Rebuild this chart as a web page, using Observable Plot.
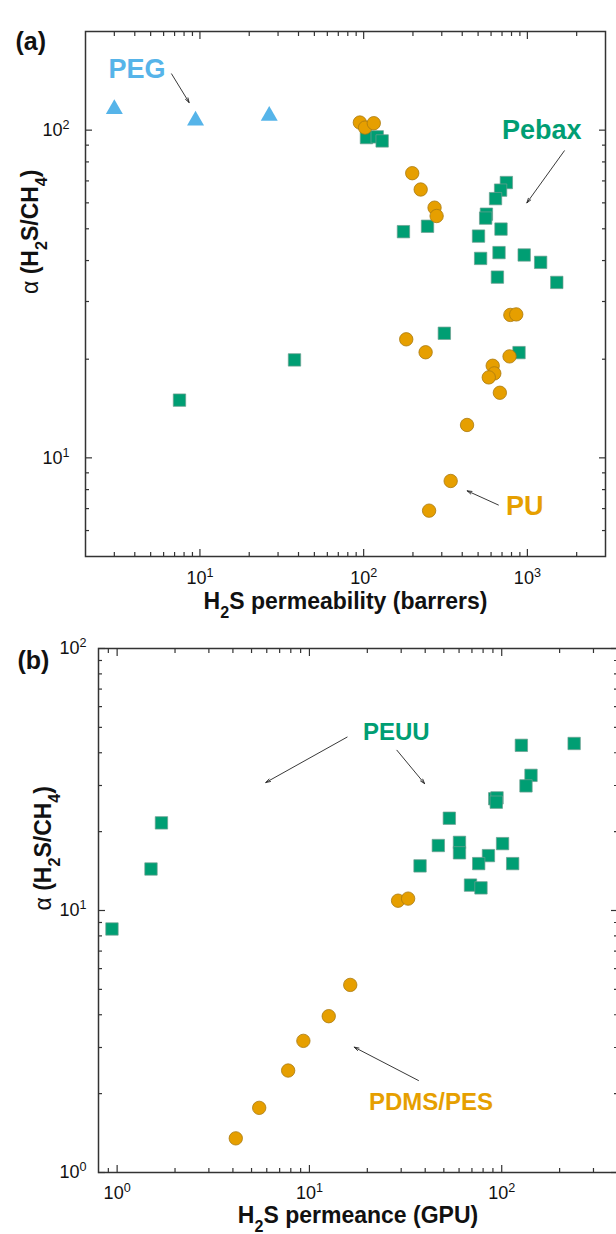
<!DOCTYPE html>
<html><head><meta charset="utf-8">
<script src="https://cdn.jsdelivr.net/npm/d3@7"></script>
<script src="https://cdn.jsdelivr.net/npm/@observablehq/plot@0.6"></script>
<style>
body{margin:0;background:#fff;}
#wrap{position:relative;width:616px;height:1234px;overflow:hidden;background:#fff;}
#wrap svg{position:absolute;left:0;}
</style>
</head><body><div id="wrap"></div>
<script>
// ---------- Panel (a): H2S permeability vs selectivity ----------
const pegPermeability = [3.0, 9.4, 26.5];
const pegSelectivity  = [116, 107, 110.6];

const puPermeability = [94.8, 102, 115.3, 198, 223, 271, 279, 787, 855, 182, 239, 614, 628, 581, 778, 679, 428, 340, 251];
const puSelectivity  = [105.5, 101.8, 105, 73.9, 65.9, 58, 54.7, 27.3, 27.4, 23.0, 21.0, 19.1, 18.1, 17.6, 20.4, 15.8, 12.6, 8.5, 6.9];

const pebaxPermeability = [104, 121, 129.7, 744, 686, 639, 562, 556, 690, 245.5, 175, 503, 518, 671, 956, 1205, 656, 1512, 311, 889, 37.8, 7.5];
const pebaxSelectivity  = [94.9, 95.4, 92.7, 69.2, 65.6, 61.8, 55.4, 53.9, 49.9, 50.9, 49.0, 47.5, 40.6, 42.3, 41.6, 39.5, 35.6, 34.3, 24.0, 20.95, 19.9, 15.0];

// ---------- Panel (b): H2S permeance vs selectivity ----------
const peuuPermeance   = [238, 126.5, 142, 133.7, 92, 94.5, 93.7, 53.4, 46.8, 60.3, 60.3, 101, 85.3, 75.9, 114, 37.6, 68.8, 78, 1.70, 1.50, 0.94];
const peuuSelectivity = [43.4, 42.7, 32.8, 29.9, 26.7, 26.9, 25.9, 22.5, 17.7, 18.2, 16.6, 18.0, 16.2, 15.1, 15.1, 14.8, 12.5, 12.2, 21.6, 14.4, 8.5];

const pdmsPermeance   = [28.9, 32.6, 16.3, 12.6, 9.3, 7.75, 5.48, 4.14];
const pdmsSelectivity = [10.9, 11.1, 5.2, 3.95, 3.18, 2.45, 1.765, 1.35];

// ---------- Axis ticks ----------
const aXMajor = [10, 100, 1000];
const aXMinor = [3,4,5,6,7,8,9,20,30,40,50,60,70,80,90,200,300,400,500,600,700,800,900,2000];
const aYMajor = [10, 100];
const aYMinor = [6,7,8,9,20,30,40,50,60,70,80,90];
const bXMajor = [1, 10, 100];
const bXMinor = [0.9,2,3,4,5,6,7,8,9,20,30,40,50,60,70,80,90,200,300];
const bYMajor = [1, 10, 100];
const bYMinor = [2,3,4,5,6,7,8,9,20,30,40,50,60,70,80,90];

// ---------- Annotations ----------
const aLabels = [
  {x: 4.13, y: 153.8, text: "PEG", color: "#56B4E9"},
  {x: 1226, y: 100.2, text: "Pebax", color: "#009E73"},
  {x: 965, y: 7.1, text: "PU", color: "#E69F00"}
];
const aArrows = [
  {x1: 6.71, y1: 148.5, x2: 8.59, y2: 121.4},
  {x1: 1682, y1: 86.5, x2: 993, y2: 60.0},
  {x1: 665, y1: 7.18, x2: 429, y2: 7.93}
];
const bLabels = [
  {x: 28.3, y: 48.0, text: "PEUU", color: "#009E73"},
  {x: 42.9, y: 1.854, text: "PDMS/PES", color: "#E69F00"}
];
const bArrows = [
  {x1: 15.7, y1: 45.9, x2: 5.93, y2: 30.8},
  {x1: 28.5, y1: 40.9, x2: 39.7, y2: 30.5},
  {x1: 36.9, y1: 2.244, x2: 17.1, y2: 3.008}
];

const zipXY = (xs, ys) => xs.map((x, i) => ({x, y: ys[i]}));
const AX = "#333";
const blank = () => "";
const pow10 = d => "10^" + Math.round(Math.log10(d));

function frameAxes(xMajor, xMinor, yMajor, yMinor, xPad, yPad) {
  const st = {stroke: AX, strokeWidth: 1.2, label: null, tickFormat: blank};
  return [
    ...["bottom", "top"].flatMap(anchor => [
      Plot.axisX({...st, anchor, ticks: xMajor, tickSize: -7}),
      Plot.axisX({...st, anchor, ticks: xMinor, tickSize: -4})
    ]),
    ...["left", "right"].flatMap(anchor => [
      Plot.axisY({...st, anchor, ticks: yMajor, tickSize: -7}),
      Plot.axisY({...st, anchor, ticks: yMinor, tickSize: -4})
    ]),
    Plot.axisX({anchor: "bottom", ticks: xMajor, tickSize: 0, tickPadding: xPad, tickFormat: pow10, label: null, fontSize: 18, fill: "#111"}),
    Plot.axisY({anchor: "left", ticks: yMajor, tickSize: 0, tickPadding: yPad, tickFormat: pow10, label: null, fontSize: 18, fill: "#111"})
  ];
}

function richify(svg) {
  svg.querySelectorAll("text").forEach(t => {
    const s = t.textContent;
    if (!/[_^α]/.test(s)) return;
    while (t.firstChild) t.removeChild(t.firstChild);
    const parts = s.match(/[_^]\{[^}]*\}|[_^].|α|[^_^α]+/g) || [];
    for (const p of parts) {
      const ts = document.createElementNS("http://www.w3.org/2000/svg", "tspan");
      if (p[0] === "_" || p[0] === "^") {
        ts.textContent = p[1] === "{" ? p.slice(2, -1) : p.slice(1);
        ts.setAttribute("baseline-shift", p[0] === "_" ? "sub" : "super");
        ts.setAttribute("font-size", "70%");
      } else if (p === "α") {
        ts.textContent = p;
        ts.setAttribute("font-weight", "normal");
      } else ts.textContent = p;
      t.appendChild(ts);
    }
  });
}

const style = {fontFamily: "'Liberation Sans', Arial, sans-serif", fontSize: "16px", overflow: "visible", background: "transparent"};

const plotA = Plot.plot({
  width: 616, height: 620,
  marginTop: 31, marginBottom: 64, marginLeft: 85, marginRight: 11,
  style,
  x: {type: "log", domain: [2, 3000], axis: null},
  y: {type: "log", domain: [5, 200], axis: null},
  marks: [
    Plot.frame({stroke: AX, strokeWidth: 1.5}),
    ...frameAxes(aXMajor, aXMinor, aYMajor, aYMinor, 15, 16),
    Plot.dot(zipXY(pebaxPermeability, pebaxSelectivity), {x: "x", y: "y", symbol: "square", r: 7, fill: "#009E73", stroke: "#6f9f90", strokeWidth: 0.7}),
    Plot.dot(zipXY(puPermeability, puSelectivity), {x: "x", y: "y", symbol: "circle", r: 6.7, fill: "#E69F00", stroke: "#a97a10", strokeWidth: 0.8}),
    Plot.dot(zipXY(pegPermeability, pegSelectivity), {x: "x", y: "y", symbol: "triangle", r: 6.3, fill: "#56B4E9"}),
    Plot.arrow(aArrows, {x1: "x1", y1: "y1", x2: "x2", y2: "y2", stroke: "#222", strokeWidth: 0.9, headLength: 8, headAngle: 35}),
    Plot.text(aLabels, {x: "x", y: "y", text: "text", fill: "color", fontWeight: "bold", fontSize: 27}),
    Plot.text(["(a)"], {frameAnchor: "top-left", text: d => d, textAnchor: "start", dx: -70, dy: 1, fontWeight: "bold", fontSize: 25, fill: "#111"}),
    Plot.text(["H_2S permeability (barrers)"], {frameAnchor: "bottom", text: d => d, dy: 52, fontWeight: "bold", fontSize: 23, fill: "#111"}),
    Plot.text(["α (H_2S/CH_4)"], {frameAnchor: "left", text: d => d, rotate: -90, dx: -55, fontWeight: "bold", fontSize: 23, fill: "#111"})
  ]
});

const plotB = Plot.plot({
  width: 616, height: 614,
  marginTop: 28, marginBottom: 62, marginLeft: 98, marginRight: -1,
  style,
  x: {type: "log", domain: [0.8, 400], axis: null},
  y: {type: "log", domain: [1, 100], axis: null},
  marks: [
    Plot.frame({stroke: AX, strokeWidth: 1.5}),
    ...frameAxes(bXMajor, bXMinor, bYMajor, bYMinor, 14, 12),
    Plot.dot(zipXY(peuuPermeance, peuuSelectivity), {x: "x", y: "y", symbol: "square", r: 7, fill: "#009E73", stroke: "#6f9f90", strokeWidth: 0.7}),
    Plot.dot(zipXY(pdmsPermeance, pdmsSelectivity), {x: "x", y: "y", symbol: "circle", r: 6.7, fill: "#E69F00", stroke: "#a97a10", strokeWidth: 0.8}),
    Plot.arrow(bArrows, {x1: "x1", y1: "y1", x2: "x2", y2: "y2", stroke: "#222", strokeWidth: 0.9, headLength: 8, headAngle: 35}),
    Plot.text(bLabels, {x: "x", y: "y", text: "text", fill: "color", fontWeight: "bold", fontSize: 24}),
    Plot.text(["(b)"], {frameAnchor: "top-left", text: d => d, textAnchor: "start", dx: -81, dy: 3, fontWeight: "bold", fontSize: 25, fill: "#111"}),
    Plot.text(["H_2S permeance (GPU)"], {frameAnchor: "bottom", text: d => d, dy: 50, fontWeight: "bold", fontSize: 23, fill: "#111"}),
    Plot.text(["α (H_2S/CH_4)"], {frameAnchor: "left", text: d => d, rotate: -90, dx: -55, fontWeight: "bold", fontSize: 23, fill: "#111"})
  ]
});

richify(plotA); richify(plotB);
plotA.style.top = "0px";
plotB.style.top = "620px";
const wrap = document.getElementById("wrap");
wrap.appendChild(plotA);
wrap.appendChild(plotB);
</script>
</body></html>
